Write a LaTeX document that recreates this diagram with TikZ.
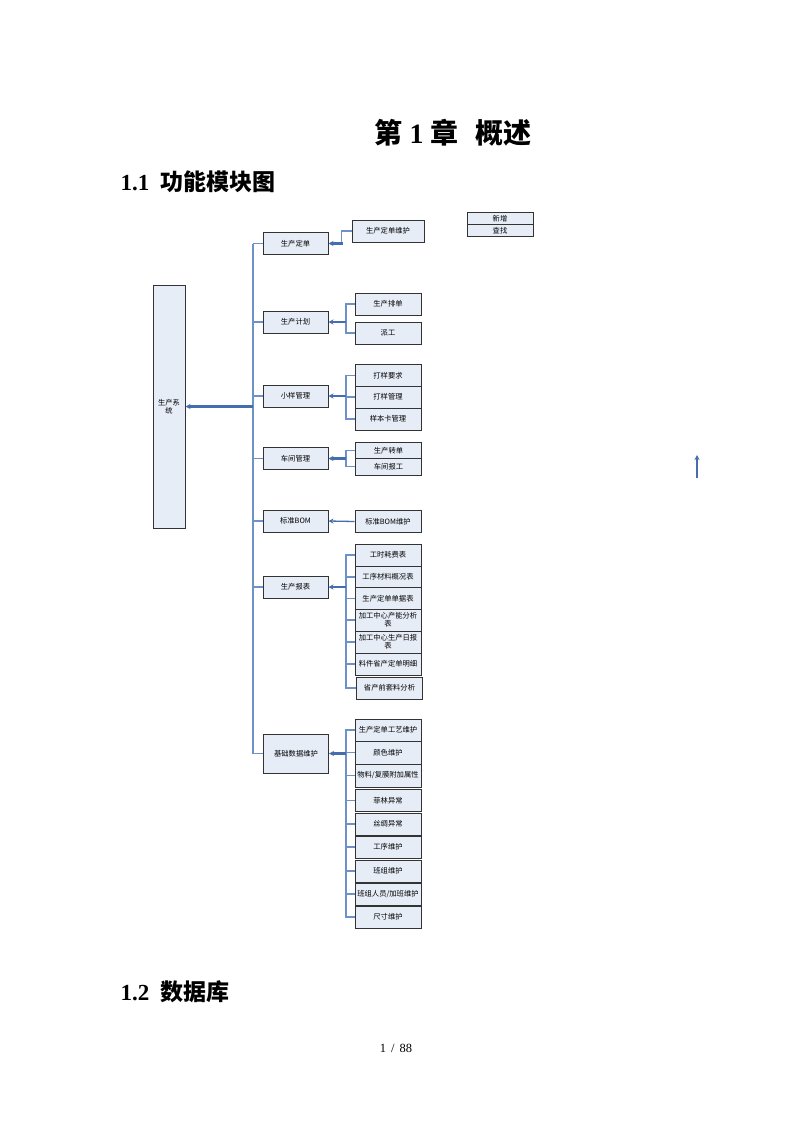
\documentclass[tikz,border=0pt]{standalone}
\usepackage{fontspec}
\setmainfont{Liberation Serif}
\newfontfamily\cjk{Noto Sans CJK SC}
\usetikzlibrary{arrows.meta,calc}
\definecolor{boxfill}{RGB}{231,237,247}
\definecolor{lineblue}{RGB}{110,145,200}
\definecolor{arrblue}{RGB}{70,110,175}
\tikzset{
  bx/.style={draw=black!80, line width=1pt, fill=boxfill, inner sep=1pt, align=center,
    font=\cjk\fontsize{7.3}{8.5}\selectfont, minimum height=22pt},
  lvltwo/.style={bx, minimum width=65pt},
  lvlthree/.style={bx, minimum width=66pt},
  trunk/.style={draw=lineblue, line width=1.5pt},
  br/.style={draw=lineblue, line width=1.3pt},
  arr/.style={draw=arrblue, line width=2.2pt, -{Stealth[length=5pt,width=5pt]}},
  thinarr/.style={draw=arrblue, line width=1.3pt, -{Stealth[length=5pt,width=5pt]}},
}
\begin{document}
\begin{tikzpicture}[x=1pt,y=-1pt]
\useasboundingbox (0,0) rectangle (793,1122);
\fill[white] (0,0) rectangle (793,1122);
% headings
\node[font=\fontsize{28}{32}\selectfont\bfseries] (title) at (453,133) {{\cjk 第} 1 {\cjk 章}\hspace{0.6em}{\cjk 概述}};
\node[font=\fontsize{23}{27}\selectfont\bfseries, anchor=west] (h11) at (117,182) {1.1\hspace{0.5em}{\cjk 功能模块图}};
\node[font=\fontsize{23}{27}\selectfont\bfseries, anchor=west] (h12) at (117,992) {1.2\hspace{0.5em}{\cjk 数据库}};
\node[font=\fontsize{12.5}{14}\selectfont] (pg) at (396,1048) {1\hspace{0.4em}/\hspace{0.4em}88};
% legend boxes
\node[bx, minimum width=66pt, minimum height=11.5pt, inner sep=0pt] (xz) at (500,218.5) {新增};
\node[bx, minimum width=66pt, minimum height=12pt, inner sep=0pt] (cz) at (500,230.5) {查找};
% lone arrow
\coordinate (la0) at (697,478);
\coordinate (la1) at (697,455);
\draw[thinarr] (la0) -- (la1);
% system box
\node[bx, minimum width=32pt, minimum height=243pt, text width=26pt] (sys) at (169,406.5) {生产系\\统};
% level two
\node[lvltwo] (a) at (295.5,243.5) {生产定单};
\node[lvltwo] (b) at (295.5,322) {生产计划};
\node[lvltwo] (c) at (295.5,396) {小样管理};
\node[lvltwo] (d) at (295.5,458.5) {车间管理};
\node[lvltwo] (e) at (295.5,521) {标准BOM};
\node[lvltwo] (f) at (295.5,587) {生产报表};
\node[lvltwo, minimum height=39pt] (g) at (296,753.5) {基础数据维护};
% trunk
\coordinate (tx) at (253,0);
\draw[trunk] (a.west -| tx) -- (g.west -| tx);
\foreach \n in {a,b,c,d,e,f,g} { \draw[trunk] (\n.west -| tx) -- (\n.west); }
\draw[arr] (sys.east -| tx) -- (sys.east);
% level three
\coordinate (bxx) at (346,0);
\node[bx, minimum width=72pt] (a1) at (388,231) {生产定单维护};
\draw[br] (a1.west) -- ++(-10,0) |- ($(a.east)+(14,0)$);
\draw[arr] ($(a.east)+(14,0)$) -- (a.east);

\node[lvlthree] (b1) at (388,304) {生产排单};
\node[lvlthree] (b2) at (388,333) {派工};
\draw[br] (b1.west) -| (b2.west -| bxx) -- (b2.west);
\draw[arr] (b.east -| bxx) -- (b.east);

\node[lvlthree] (c1) at (388,375.5) {打样要求};
\node[lvlthree] (c2) at (388,397) {打样管理};
\node[lvlthree] (c3) at (388,419) {样本卡管理};
\draw[br] (c1.west) -| (c3.west -| bxx) -- (c3.west);
\draw[br] (c2.west) -- (c2.west -| bxx);
\draw[arr] (c.east -| bxx) -- (c.east);

\node[lvlthree, minimum height=16pt] (d1) at (388.5,450.5) {生产转单};
\node[lvlthree, minimum height=17pt] (d2) at (388.5,466.5) {车间报工};
\draw[br] (d1.west) -| (d2.west -| bxx) -- (d2.west);
\draw[arr] (d.east -| bxx) -- (d.east);

\node[lvlthree] (e1) at (388,521.5) {标准BOM维护};
\draw[thinarr] (e1.west) -- (e.east);

\node[lvlthree] (f1) at (388,555) {工时耗费表};
\node[lvlthree] (f2) at (388,577) {工序材料概况表};
\node[lvlthree] (f3) at (388,598.5) {生产定单单据表};
\node[lvlthree, font=\cjk\fontsize{7.3}{7.8}\selectfont] (f4) at (388,620) {加工中心产能分析\\表};
\node[lvlthree, font=\cjk\fontsize{7.3}{7.8}\selectfont] (f5) at (388,642) {加工中心生产日报\\表};
\node[lvlthree] (f6) at (388,664) {料件省产定单明细};
\node[lvlthree] (f7) at (389.5,688) {省产前套料分析};
\draw[br] (f1.west) -| (f7.west -| bxx) -- (f7.west);
\foreach \n in {f2,f3,f4,f5,f6} { \draw[br] (\n.west) -- (\n.west -| bxx); }
\draw[arr] (f.east -| bxx) -- (f.east);

\node[lvlthree] (g1) at (388,730) {生产定单工艺维护};
\node[lvlthree, minimum height=23pt] (g2) at (388,752.5) {颜色维护};
\node[lvlthree, minimum height=23pt] (g3) at (388,775.5) {物料/复膜附加属性};
\node[lvlthree] (g4) at (388,800.5) {菲林异常};
\node[lvlthree] (g5) at (388,824) {丝绸异常};
\node[lvlthree] (g6) at (388,847) {工序维护};
\node[lvlthree] (g7) at (388,871) {班组维护};
\node[lvlthree] (g8) at (388,894) {班组人员/加班维护};
\node[lvlthree] (g9) at (388,917) {尺寸维护};
\draw[br] (g1.west) -| (g9.west -| bxx) -- (g9.west);
\foreach \n in {g2,g3,g4,g5,g6,g7,g8} { \draw[br] (\n.west) -- (\n.west -| bxx); }
\draw[arr] (g.east -| bxx) -- (g.east);
\end{tikzpicture}
\end{document}
